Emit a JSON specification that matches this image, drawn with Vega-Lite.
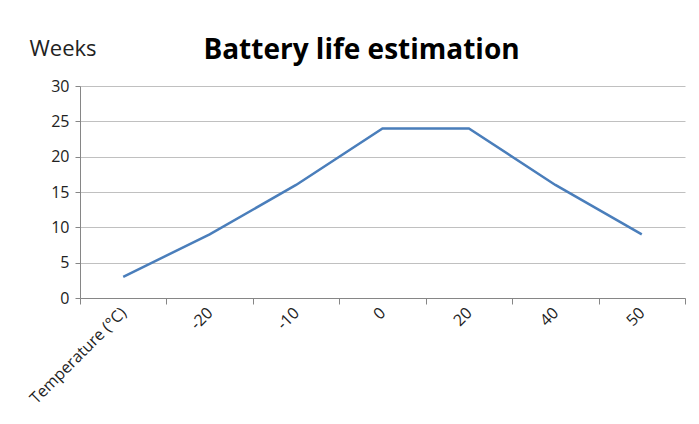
{
  "$schema": "https://vega.github.io/schema/vega-lite/v6.json",
  "width": 605,
  "height": 212,
  "autosize": {"type": "none"},
  "padding": {"left": 80, "top": 86, "right": 14, "bottom": 126},
  "background": "white",
  "title": {
    "text": "Battery life estimation",
    "font": "Open Sans",
    "fontSize": 28,
    "fontWeight": "bold",
    "color": "#000000",
    "anchor": "middle",
    "frame": "group",
    "baseline": "alphabetic",
    "offset": -50,
    "dx": -21
  },
  "data": {
    "values": [
      {"temp": "Temperature (°C)", "weeks": 3},
      {"temp": "-20", "weeks": 9},
      {"temp": "-10", "weeks": 16},
      {"temp": "0", "weeks": 24},
      {"temp": "20", "weeks": 24},
      {"temp": "40", "weeks": 16},
      {"temp": "50", "weeks": 9}
    ]
  },
  "mark": {"type": "line", "color": "#4a7ebb", "strokeWidth": 2.5},
  "encoding": {
    "x": {
      "field": "temp",
      "type": "ordinal",
      "sort": null,
      "scale": {"type": "band", "paddingInner": 0, "paddingOuter": 0},
      "axis": {
        "title": null,
        "labelAngle": -45,
        "labelAlign": "right",
        "labelBaseline": "middle",
        "labelFont": "Open Sans",
        "labelFontSize": 16,
        "labelColor": "#222222",
        "labelPadding": 6,
        "tickBand": "extent",
        "tickSize": 6,
        "tickColor": "#868686",
        "domainColor": "#868686",
        "grid": false
      }
    },
    "y": {
      "field": "weeks",
      "type": "quantitative",
      "scale": {"domain": [0, 30], "nice": false},
      "axis": {
        "values": [0, 5, 10, 15, 20, 25, 30],
        "title": "Weeks",
        "titleAngle": 0,
        "titleAlign": "left",
        "titleBaseline": "alphabetic",
        "titleX": -51,
        "titleY": -31,
        "titleFont": "Open Sans",
        "titleFontSize": 22,
        "titleFontWeight": "normal",
        "titleColor": "#222222",
        "labelFont": "Open Sans",
        "labelFontSize": 16,
        "labelColor": "#222222",
        "labelPadding": 6,
        "tickSize": 5,
        "tickColor": "#868686",
        "domainColor": "#868686",
        "gridColor": "#c0c0c0",
        "gridWidth": 1
      }
    }
  },
  "config": {"view": {"stroke": null}}
}
